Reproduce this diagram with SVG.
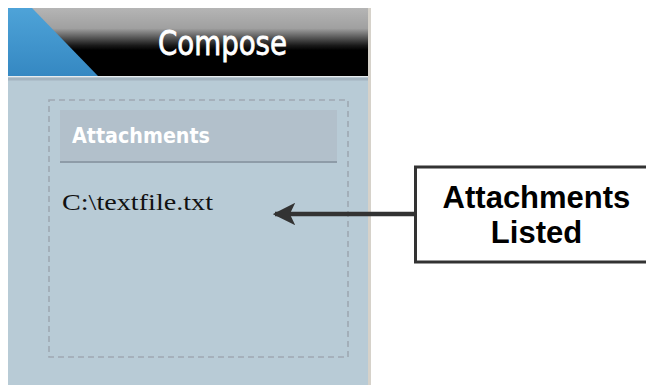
<svg xmlns="http://www.w3.org/2000/svg" width="646" height="385" viewBox="0 0 646 385">
<style>
.panel{fill:#b8cbd6}
.dash{fill:none;stroke:#9ea8b2;stroke-width:1.6;stroke-dasharray:6 4}
.hdrtxt{font-family:"DejaVu Sans",Verdana,sans-serif;font-weight:bold;fill:#ffffff}
.title{font-family:"DejaVu Sans",Verdana,sans-serif;font-weight:normal;fill:#ffffff;stroke:#ffffff;stroke-width:0.8}
.file{font-family:"Liberation Serif","Times New Roman",serif;fill:#111111}
.callout{fill:#ffffff;stroke:#333333;stroke-width:3}
.calltxt{font-family:"Liberation Sans",Arial,sans-serif;font-weight:bold;font-size:31px;fill:#000000;text-anchor:middle}
.conn{stroke:#333333;stroke-width:4.5;fill:none}
</style>
<defs>
<linearGradient id="hdr" x1="0" y1="0" x2="0" y2="1">
<stop offset="0" stop-color="#b5b5b5"/>
<stop offset="0.3" stop-color="#a0a0a0"/>
<stop offset="0.55" stop-color="#1a1a1a"/>
<stop offset="0.62" stop-color="#000000"/>
<stop offset="1" stop-color="#000000"/>
</linearGradient>
<linearGradient id="blue" x1="0" y1="0" x2="0" y2="1">
<stop offset="0" stop-color="#4ea3d8"/>
<stop offset="1" stop-color="#3588c2"/>
</linearGradient>
<marker id="arr" markerWidth="5" markerHeight="5" refX="4.5" refY="2.5" orient="auto" markerUnits="strokeWidth" viewBox="0 0 5 5">
<path d="M0,0 L5,2.5 L0,5 L1.2,2.5 Z" fill="#333333"/>
</marker>
</defs>
<rect x="0" y="0" width="646" height="385" fill="#ffffff"/>
<g id="compose-panel">
<rect x="368" y="8" width="3" height="377" fill="#d6d2ca"/>
<rect class="panel" x="8" y="76" width="360" height="309"/>
<rect x="8" y="76" width="360" height="1.5" fill="#e6ecef"/>
<rect x="8" y="77.5" width="360" height="3" fill="#a3b4c0"/>
<rect x="8" y="8" width="360" height="68" fill="url(#hdr)"/>
<polygon points="8,8 32,8 98,76 8,76" fill="url(#blue)"/>
<text class="title" x="158" y="55" font-size="33" textLength="129" lengthAdjust="spacingAndGlyphs">Compose</text>
</g>
<g id="attachments-box">
<rect class="dash" x="49" y="100" width="299" height="257"/>
<rect x="60" y="110" width="277" height="52" fill="#b2c0cb"/>
<rect x="60" y="161" width="277" height="2" fill="#8e9ca8"/>
<text class="hdrtxt" x="72" y="143" font-size="21" textLength="138" lengthAdjust="spacingAndGlyphs">Attachments</text>
<text class="file" x="62" y="210" font-size="23" textLength="151" lengthAdjust="spacingAndGlyphs">C:\textfile.txt</text>
</g>
<g id="connectors">
<line class="conn" x1="415" y1="214" x2="275" y2="214" marker-end="url(#arr)"/>
</g>
<g id="callout">
<rect class="callout" x="415.5" y="167" width="240" height="95"/>
<text class="calltxt" x="536.5" y="208">Attachments</text>
<text class="calltxt" x="536.5" y="243">Listed</text>
</g>
</svg>
